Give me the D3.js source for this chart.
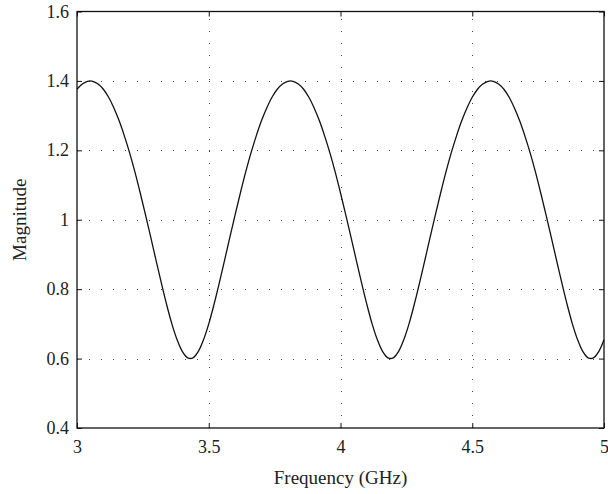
<!DOCTYPE html>
<html>
<head>
<meta charset="utf-8">
<script src="https://cdn.jsdelivr.net/npm/d3@7"></script>
<style>
  html, body { margin: 0; padding: 0; background: #fff; }
  svg { display: block; }
  text { font-family: "Liberation Serif", "Times New Roman", serif; fill: #222; }
</style>
</head>
<body>
<svg id="chart" width="608" height="494"></svg>
<script>
// ---- data ----
const frequency = [
  3.00, 3.02, 3.04, 3.06, 3.08, 3.10, 3.12, 3.14, 3.16, 3.18,
  3.20, 3.22, 3.24, 3.26, 3.28, 3.30, 3.32, 3.34, 3.36, 3.38,
  3.40, 3.42, 3.44, 3.46, 3.48, 3.50, 3.52, 3.54, 3.56, 3.58,
  3.60, 3.62, 3.64, 3.66, 3.68, 3.70, 3.72, 3.74, 3.76, 3.78,
  3.80, 3.82, 3.84, 3.86, 3.88, 3.90, 3.92, 3.94, 3.96, 3.98,
  4.00, 4.02, 4.04, 4.06, 4.08, 4.10, 4.12, 4.14, 4.16, 4.18,
  4.20, 4.22, 4.24, 4.26, 4.28, 4.30, 4.32, 4.34, 4.36, 4.38,
  4.40, 4.42, 4.44, 4.46, 4.48, 4.50, 4.52, 4.54, 4.56, 4.58,
  4.60, 4.62, 4.64, 4.66, 4.68, 4.70, 4.72, 4.74, 4.76, 4.78,
  4.80, 4.82, 4.84, 4.86, 4.88, 4.90, 4.92, 4.94, 4.96, 4.98,
  5.00
];
const magnitude = [
  1.376, 1.391, 1.399, 1.399, 1.391, 1.376, 1.353, 1.322, 1.285, 1.241,
  1.192, 1.137, 1.077, 1.014, 0.949, 0.883, 0.818, 0.756, 0.700, 0.654,
  0.620, 0.602, 0.602, 0.620, 0.654, 0.700, 0.756, 0.818, 0.883, 0.949,
  1.014, 1.077, 1.137, 1.192, 1.241, 1.285, 1.322, 1.353, 1.376, 1.391,
  1.399, 1.399, 1.391, 1.376, 1.353, 1.322, 1.285, 1.241, 1.192, 1.137,
  1.077, 1.014, 0.949, 0.883, 0.818, 0.756, 0.700, 0.654, 0.620, 0.602,
  0.602, 0.620, 0.654, 0.700, 0.756, 0.818, 0.883, 0.949, 1.014, 1.077,
  1.137, 1.192, 1.241, 1.285, 1.322, 1.353, 1.376, 1.391, 1.399, 1.399,
  1.391, 1.376, 1.353, 1.322, 1.285, 1.241, 1.192, 1.137, 1.077, 1.014,
  0.949, 0.883, 0.818, 0.756, 0.700, 0.654, 0.620, 0.602, 0.602, 0.620,
  0.654
];
const xTicks = [3, 3.5, 4, 4.5, 5];
const xTickLabels = ["3", "3.5", "4", "4.5", "5"];
const yTicks = [0.4, 0.6, 0.8, 1.0, 1.2, 1.4, 1.6];
const yTickLabels = ["0.4", "0.6", "0.8", "1", "1.2", "1.4", "1.6"];
const xTitle = "Frequency (GHz)";
const yTitle = "Magnitude";

// ---- layout ----
const mLeft = 77, mRight = 604, mTop = 11.5, mBottom = 428;
const svg = d3.select("#chart");

const x = d3.scaleLinear().domain([3, 5]).range([mLeft, mRight]);
const y = d3.scaleLinear().domain([0.4, 1.6]).range([mBottom, mTop]);

// grid (dotted)
const grid = svg.append("g").attr("stroke", "#444").attr("stroke-width", 1)
  .attr("stroke-dasharray", "1,11").attr("fill", "none");
grid.selectAll("line.v").data(xTicks.slice(1, -1)).enter().append("line")
  .attr("x1", d => Math.round(x(d)) + 0.5).attr("x2", d => Math.round(x(d)) + 0.5)
  .attr("y1", mBottom).attr("y2", mTop);
grid.selectAll("line.h").data(yTicks.slice(1, -1)).enter().append("line")
  .attr("y1", d => Math.round(y(d)) + 0.5).attr("y2", d => Math.round(y(d)) + 0.5)
  .attr("x1", mLeft).attr("x2", mRight);

// axes with inward ticks
const tickLen = 5;
const xAxisB = d3.axisBottom(x).tickValues(xTicks).tickSize(-tickLen).tickPadding(0)
  .tickFormat((d, i) => xTickLabels[i]);
const xAxisT = d3.axisTop(x).tickValues(xTicks).tickSize(-tickLen).tickFormat("");
const yAxisL = d3.axisLeft(y).tickValues(yTicks).tickSize(-tickLen).tickPadding(0)
  .tickFormat((d, i) => yTickLabels[i]);
const yAxisR = d3.axisRight(y).tickValues(yTicks).tickSize(-tickLen).tickFormat("");

function styleAxis(g) {
  g.select(".domain").remove();
  g.selectAll(".tick line").attr("stroke", "#111").attr("stroke-width", 1);
  g.selectAll("text").attr("font-family", "Liberation Serif, serif")
    .attr("font-size", 18).attr("fill", "#222");
}

const gB = svg.append("g").attr("transform", `translate(0,${mBottom})`).call(xAxisB).call(styleAxis);
gB.selectAll(".tick text").attr("y", 25).attr("dy", 0);
const gT = svg.append("g").attr("transform", `translate(0,${mTop})`).call(xAxisT).call(styleAxis);
const gL = svg.append("g").attr("transform", `translate(${mLeft},0)`).call(yAxisL).call(styleAxis);
gL.selectAll(".tick text").attr("x", -8).attr("dy", 5.5);
const gR = svg.append("g").attr("transform", `translate(${mRight},0)`).call(yAxisR).call(styleAxis);

// frame
svg.append("rect").attr("x", mLeft).attr("y", mTop)
  .attr("width", mRight - mLeft).attr("height", mBottom - mTop)
  .attr("fill", "none").attr("stroke", "#111").attr("stroke-width", 1.3);

// curve
const pts = frequency.map((f, i) => [f, magnitude[i]]);
const line = d3.line().x(d => x(d[0])).y(d => y(d[1])).curve(d3.curveCatmullRom.alpha(0.5));
svg.append("path").datum(pts).attr("d", line)
  .attr("fill", "none").attr("stroke", "#111").attr("stroke-width", 1.3);

// titles
svg.append("text").attr("x", (mLeft + mRight) / 2).attr("y", 484)
  .attr("text-anchor", "middle").attr("font-size", 19).text(xTitle);
svg.append("text").attr("transform", `translate(26,${(mTop + mBottom) / 2}) rotate(-90)`)
  .attr("text-anchor", "middle").attr("font-size", 19).text(yTitle);
</script>
</body>
</html>
